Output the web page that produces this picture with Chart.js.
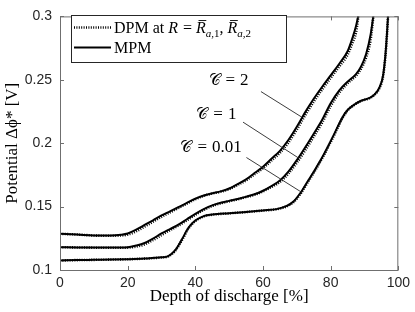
<!DOCTYPE html>
<html>
<head>
<meta charset="utf-8">
<script src="https://cdn.jsdelivr.net/npm/chart.js@4.4.0/dist/chart.umd.min.js"></script>
<style>
  html, body { margin: 0; padding: 0; background: #fff; }
  #wrap { width: 415px; height: 312px; }
</style>
</head>
<body>
<div id="wrap"><canvas id="chart"></canvas></div>
<script>
// ===== Data =====
// C = 2
const depthC2 = [0, 5, 10, 15, 18, 20, 22.5, 25, 27.5, 30, 32.5, 35, 37.5, 40, 42.5, 45, 47.5, 50, 52.5, 55,
  57.5, 60, 62.5, 65, 67.5, 70, 72.5, 75, 77.5, 80, 82.5, 85, 86.5, 87.5, 88.3];
const mpmC2 = [0.1285, 0.128, 0.1273, 0.1272, 0.1278, 0.1288, 0.1318, 0.1355, 0.1392, 0.143, 0.1462, 0.1495, 0.153,
  0.1563, 0.1588, 0.1605, 0.162, 0.1643, 0.1678, 0.1715, 0.1765, 0.1815, 0.1877, 0.194, 0.2025, 0.213, 0.2245,
  0.235, 0.2445, 0.2535, 0.2625, 0.2725, 0.2835, 0.2925, 0.302];
const dpmC2 = [0.1285, 0.128, 0.1272, 0.127, 0.1272, 0.1279, 0.1305, 0.1342, 0.1381, 0.142, 0.1454, 0.1489, 0.1524,
  0.1558, 0.1585, 0.1603, 0.1617, 0.1638, 0.1671, 0.1707, 0.1755, 0.1803, 0.1863, 0.1924, 0.2005, 0.2108, 0.2222,
  0.2328, 0.2424, 0.2515, 0.2603, 0.2698, 0.2795, 0.2875, 0.302];

// C = 1
const depthC1 = [0, 5, 10, 15, 20, 22.5, 25, 27.5, 30, 32.5, 35, 37.5, 40, 42.5, 45, 47.5, 50, 52.5, 55, 57.5,
  60, 62.5, 65, 67.5, 70, 72.5, 75, 77.5, 80, 82.5, 85, 87.5, 89, 90.5, 91.8, 92.7];
const mpmC1 = [0.118, 0.1178, 0.1177, 0.1177, 0.118, 0.1193, 0.1213, 0.1248, 0.1288, 0.1323, 0.1357, 0.14, 0.1443,
  0.148, 0.151, 0.153, 0.1545, 0.156, 0.1578, 0.1597, 0.1625, 0.1662, 0.1705, 0.1775, 0.1866, 0.1968, 0.2075,
  0.2185, 0.2315, 0.2415, 0.2485, 0.2545, 0.2605, 0.2705, 0.2855, 0.302];
const dpmC1 = [0.118, 0.1178, 0.1176, 0.1175, 0.1176, 0.1185, 0.1202, 0.1236, 0.1276, 0.1314, 0.135, 0.1392, 0.1435,
  0.1474, 0.1505, 0.1526, 0.1542, 0.1557, 0.1575, 0.1593, 0.162, 0.1655, 0.1694, 0.176, 0.1846, 0.1945, 0.2052,
  0.2163, 0.2293, 0.2397, 0.2472, 0.2532, 0.2588, 0.2678, 0.2815, 0.302];

// C = 0.01
const depthC0 = [0, 5, 10, 15, 20, 25, 30, 32, 34, 36, 38, 40, 42.5, 45, 50, 55, 60, 64, 67, 69, 71, 73, 75, 78,
  81, 83.5, 85, 87, 89, 91.5, 93, 94.5, 95.5, 96.2, 96.7, 97];
const mpmC0 = [0.1075, 0.1078, 0.108, 0.1082, 0.1085, 0.109, 0.110, 0.111, 0.1155, 0.124, 0.1335, 0.139, 0.1425,
  0.1437, 0.1448, 0.1458, 0.147, 0.148, 0.1505, 0.154, 0.1605, 0.169, 0.1775, 0.1913, 0.207, 0.2205, 0.2262,
  0.2305, 0.2335, 0.2357, 0.2385, 0.2445, 0.2535, 0.27, 0.2888, 0.302];
const dpmC0 = [0.1075, 0.1078, 0.108, 0.1082, 0.1085, 0.109, 0.1099, 0.1108, 0.115, 0.1233, 0.1328, 0.1386, 0.1423,
  0.1436, 0.1447, 0.1457, 0.1469, 0.1479, 0.1502, 0.1535, 0.1598, 0.1682, 0.1767, 0.1905, 0.2062, 0.2198, 0.2258,
  0.2302, 0.2333, 0.2355, 0.2382, 0.244, 0.2528, 0.269, 0.2878, 0.302];

const xTicks = [0, 20, 40, 60, 80, 100];
const yTicks = [0.1, 0.15, 0.2, 0.25, 0.3];
const cLabels = ['2', '1', '0.01'];

const SERIF = '"Liberation Serif", "Times New Roman", serif';
const SANS = '"Liberation Sans", Arial, sans-serif';

const pts = (xs, ys) => xs.map((x, i) => ({ x, y: ys[i] }));

function series(label, xs, ys, dotted) {
  return {
    label,
    data: pts(xs, ys),
    borderColor: '#000',
    borderWidth: dotted ? 2.6 : 2,
    borderDash: dotted ? [1, 1.4] : [],
    pointRadius: 0,
    cubicInterpolationMode: 'monotone',
    fill: false,
    clip: 0,
    order: dotted ? 2 : 1
  };
}

// ===== Draw a run of text pieces (italic / subscript / bar) =====
function drawRuns(ctx, runs, x, y) {
  runs.forEach(r => {
    const size = r.sub ? 11 : (r.size || 16);
    ctx.font = (r.it ? 'italic ' : '') + size + 'px ' + SERIF;
    const yy = y + (r.sub ? 4 : 0);
    ctx.fillText(r.t, x, yy);
    const w = ctx.measureText(r.t).width;
    if (r.bar) {
      ctx.save();
      ctx.lineWidth = 0.9;
      ctx.beginPath();
      ctx.moveTo(x + 2.5, y - size * 0.78);
      ctx.lineTo(x + w + 0.5, y - size * 0.78);
      ctx.stroke();
      ctx.restore();
    }
    x += w + (r.gap || 0);
  });
  return x;
}

// ===== Box, inward ticks, legend and curve labels =====
const decorations = {
  id: 'decorations',
  afterDatasetsDraw(chart) {
    const { ctx, chartArea: a, scales: { x, y } } = chart;
    ctx.save();

    // axes box + inward ticks
    ctx.strokeStyle = '#6f6f6f';
    ctx.lineWidth = 1;
    ctx.strokeRect(a.left + 0.5, a.top + 0.5, a.right - a.left - 1, a.bottom - a.top);
    ctx.beginPath();
    xTicks.forEach(v => {
      const px = Math.round(x.getPixelForValue(v)) + 0.5;
      ctx.moveTo(px, a.bottom); ctx.lineTo(px, a.bottom - 4);
      ctx.moveTo(px, a.top); ctx.lineTo(px, a.top + 4);
    });
    yTicks.forEach(v => {
      const py = Math.round(y.getPixelForValue(v)) + 0.5;
      ctx.moveTo(a.left, py); ctx.lineTo(a.left + 4, py);
      ctx.moveTo(a.right, py); ctx.lineTo(a.right - 4, py);
    });
    ctx.stroke();

    // legend
    const lx = 71.5, ly = 15.5, lw = 215, lh = 47;
    ctx.fillStyle = '#fff';
    ctx.fillRect(lx, ly, lw, lh);
    ctx.strokeStyle = '#262626';
    ctx.strokeRect(lx, ly, lw, lh);

    ctx.strokeStyle = '#000';
    ctx.lineWidth = 2.4;
    ctx.setLineDash([1, 1.4]);
    ctx.beginPath(); ctx.moveTo(74, 27.5); ctx.lineTo(111, 27.5); ctx.stroke();
    ctx.setLineDash([]);
    ctx.lineWidth = 2;
    ctx.beginPath(); ctx.moveTo(74, 47.5); ctx.lineTo(111, 47.5); ctx.stroke();

    ctx.fillStyle = '#000';
    ctx.textBaseline = 'alphabetic';
    ctx.textAlign = 'left';
    drawRuns(ctx, [
      { t: 'DPM at ' },
      { t: 'R', it: true, gap: 1 },
      { t: ' = ' },
      { t: 'R', it: true, bar: true },
      { t: 'a', it: true, sub: true },
      { t: ',1', sub: true },
      { t: ', ' },
      { t: 'R', it: true, bar: true },
      { t: 'a', it: true, sub: true },
      { t: ',2', sub: true }
    ], 114, 33);
    drawRuns(ctx, [{ t: 'MPM' }], 114, 53);

    // curve labels with leader lines (positions in data units)
    const notes = [
      { tx: 43.9, ty: 0.2506, from: [59.4, 0.2407], to: [71.5, 0.2205] },
      { tx: 40.3, ty: 0.2240, from: [54.1, 0.2166], to: [70.7, 0.1880] },
      { tx: 35.6, ty: 0.1981, from: [55.1, 0.1887], to: [71.6, 0.1610] }
    ];
    notes.forEach((n, i) => {
      ctx.strokeStyle = '#262626';
      ctx.lineWidth = 0.9;
      ctx.beginPath();
      ctx.moveTo(x.getPixelForValue(n.from[0]), y.getPixelForValue(n.from[1]));
      ctx.lineTo(x.getPixelForValue(n.to[0]), y.getPixelForValue(n.to[1]));
      ctx.stroke();
      ctx.fillStyle = '#000';
      drawRuns(ctx, [
        { t: '𝒞', size: 16, gap: 5 },
        { t: '=', size: 17, gap: 5 },
        { t: cLabels[i], size: 17 }
      ], x.getPixelForValue(n.tx), y.getPixelForValue(n.ty) + 6);
    });

    ctx.restore();
  }
};

new Chart(document.getElementById('chart'), {
  type: 'line',
  data: {
    datasets: [
      series('DPM C=2', depthC2, dpmC2, true),
      series('DPM C=1', depthC1, dpmC1, true),
      series('DPM C=0.01', depthC0, dpmC0, true),
      series('MPM C=2', depthC2, mpmC2, false),
      series('MPM C=1', depthC1, mpmC1, false),
      series('MPM C=0.01', depthC0, mpmC0, false)
    ]
  },
  options: {
    responsive: true,
    maintainAspectRatio: false,
    animation: false,
    devicePixelRatio: 1,
    layout: { padding: { left: 0, right: 13, top: 7, bottom: 0 } },
    plugins: { legend: { display: false }, tooltip: { enabled: false } },
    scales: {
      x: {
        type: 'linear',
        min: 0, max: 100,
        afterBuildTicks: s => { s.ticks = xTicks.map(v => ({ value: v })); },
        afterFit: s => { s.height = 42; },
        grid: { display: false, drawTicks: false },
        border: { display: false },
        ticks: { color: '#262626', font: { family: SANS, size: 14 }, padding: 5, maxRotation: 0 },
        title: { display: true, text: 'Depth of discharge [%]', color: '#000',
                 font: { family: SERIF, size: 17 }, padding: { top: 0, bottom: 5 } }
      },
      y: {
        type: 'linear',
        min: 0.1, max: 0.3,
        afterBuildTicks: s => { s.ticks = yTicks.map(v => ({ value: v })); },
        afterFit: s => { s.width = 60; },
        grid: { display: false, drawTicks: false },
        border: { display: false },
        ticks: { color: '#262626', font: { family: SANS, size: 14 }, padding: 8,
                 callback: v => String(+v.toFixed(2)) },
        title: { display: true, text: 'Potential Δϕ* [V]', color: '#000',
                 font: { family: SERIF, size: 17 }, padding: { top: 2, bottom: 0 } }
      }
    }
  },
  plugins: [decorations]
});
</script>
</body>
</html>
